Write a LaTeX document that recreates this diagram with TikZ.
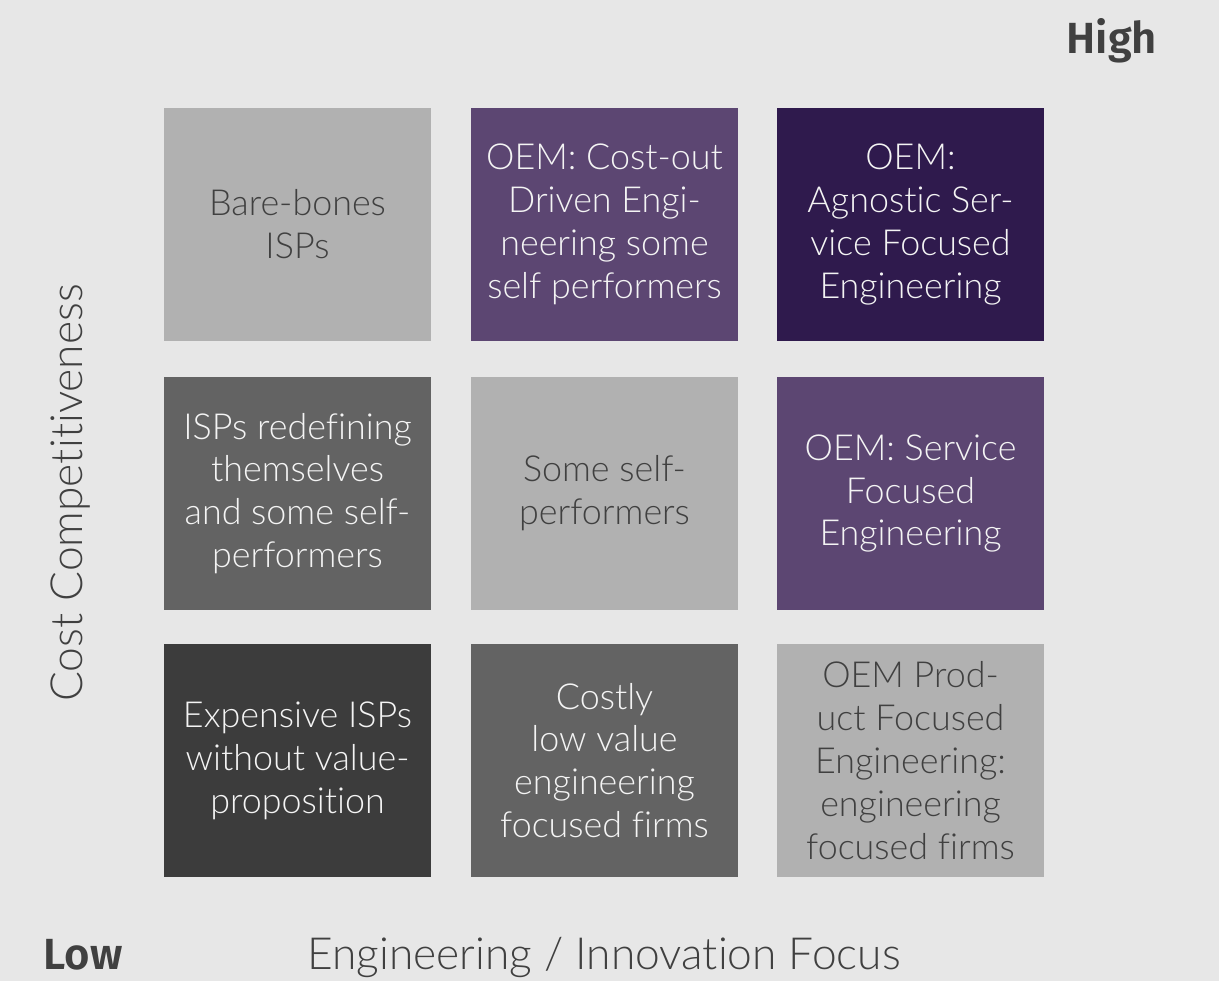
\documentclass[tikz,border=0pt]{standalone}
\usepackage{fontspec}
\setmainfont{Lato}[UprightFont=* Light, Ligatures=NoCommon]
\newfontfamily\axisbold{Fira Sans}[UprightFont=* SemiBold]
\definecolor{pagebg}{HTML}{E7E7E7}
\definecolor{cellLight}{HTML}{B1B1B1}
\definecolor{cellMid}{HTML}{636363}
\definecolor{cellDark}{HTML}{3C3C3C}
\definecolor{cellPurple}{HTML}{5C4672}
\definecolor{cellDeep}{HTML}{2F1A4D}
\definecolor{inkDark}{HTML}{404040}
\definecolor{inkLight}{HTML}{F4F4F4}
\tikzset{
  cell/.style={minimum width=6.675cm, minimum height=5.825cm, inner sep=0pt,
    align=center, font=\fontsize{25.5pt}{30.5pt}\selectfont},
  lightcell/.style={cell, fill=cellLight, text=inkDark},
  midcell/.style={cell, fill=cellMid, text=inkLight},
  darkcell/.style={cell, fill=cellDark, text=inkLight},
  purplecell/.style={cell, fill=cellPurple, text=inkLight},
  deepcell/.style={cell, fill=cellDeep, text=inkLight},
  axislabel/.style={text=inkDark, inner sep=0pt, anchor=base, font=\fontsize{31.5pt}{38pt}\selectfont},
  endlabel/.style={text=inkDark, inner sep=0pt, anchor=base, font=\axisbold\fontsize{31pt}{36pt}\selectfont}
}
\begin{document}
\begin{tikzpicture}[x=0.025cm, y=-0.025cm]
  % page background
  \fill[pagebg] (0,0) rectangle (1219,981);
  \useasboundingbox (0,0) rectangle (1219,981);

  % top row
  \node[lightcell]  (c11) at (297.5,224.5) {Bare-bones\\ISPs};
  \node[purplecell] (c12) at (604.5,224.5) {OEM: Cost-out\\Driven Engi-\\neering some\\self performers};
  \node[deepcell]   (c13) at (910.5,224.5) {OEM:\\Agnostic Ser-\\vice Focused\\Engineering};

  % middle row
  \node[midcell]    (c21) at (297.5,493.5) {ISPs redefining\\themselves\\and some self-\\performers};
  \node[lightcell]  (c22) at (604.5,493.5) {Some self-\\performers};
  \node[purplecell] (c23) at (910.5,493.5) {OEM: Service\\Focused\\Engineering};

  % bottom row
  \node[darkcell]   (c31) at (297.5,760.5) {Expensive ISPs\\without value-\\proposition};
  \node[midcell]    (c32) at (604.5,760.5) {Costly\\low value\\engineering\\focused firms};
  \node[lightcell]  (c33) at (910.5,760.5) {OEM Prod-\\uct Focused\\Engineering:\\engineering\\focused firms};

  % axes
  \node[axislabel] (xaxis) at (604,969) {Engineering / Innovation Focus};
  \node[axislabel, rotate=90] (yaxis) at (82,493) {Cost Competitiveness};
  \node[endlabel] (low) at (83,969) {Low};
  \node[endlabel] (high) at (1112,53) {High};
\end{tikzpicture}
\end{document}
